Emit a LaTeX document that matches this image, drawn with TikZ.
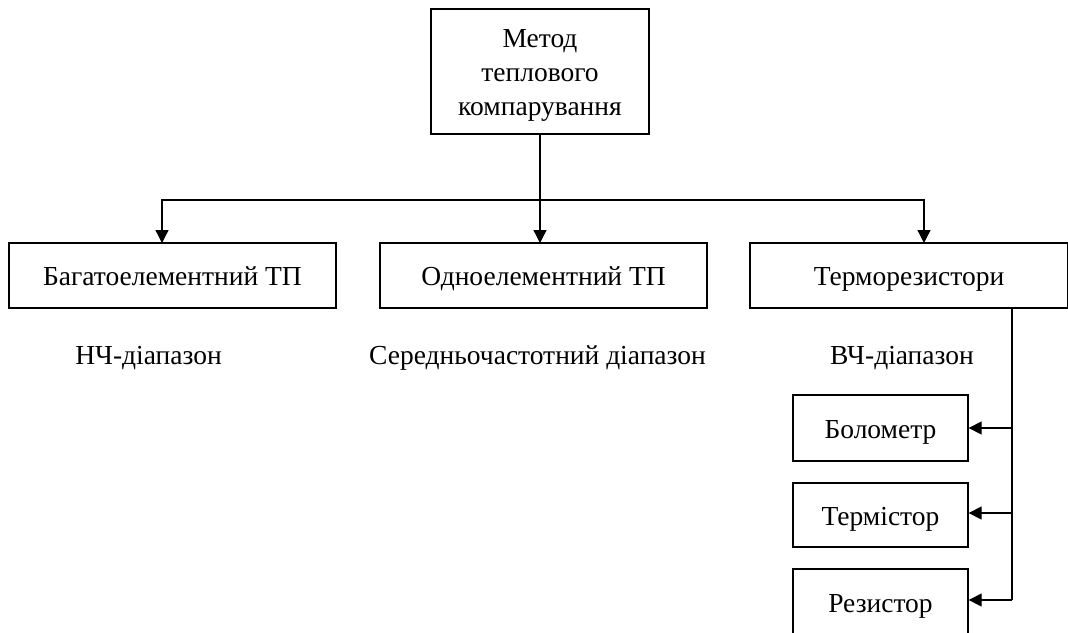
\documentclass[tikz,border=0pt]{standalone}
\usepackage{fontspec}
\setmainfont{Liberation Serif}
\usetikzlibrary{arrows.meta}
\begin{document}
\begin{tikzpicture}[x=1pt,y=-1pt,
  box/.style={draw,line width=1.3pt,inner sep=0pt,align=center,font=\fontsize{27.5}{34}\selectfont},
  one/.style={text height=26pt,text depth=6pt},
  lbl/.style={inner sep=0pt,text height=19pt,text depth=6pt,font=\fontsize{27.5}{34}\selectfont},
  conn/.style={line width=1.3pt,-{Triangle[length=13pt,width=13pt]}}]
\useasboundingbox (0,0) rectangle (1068,632);
\node[box,minimum width=218pt,minimum height=125pt] (top) at (540,71.5) {};
\node[inner sep=0pt,align=center,font=\fontsize{27.5}{34}\selectfont] (toptext) at (540,75.5) {Метод\\теплового\\компарування};
\node[box,one,minimum width=327pt,minimum height=65pt] (b1) at (172.5,275.5) {Багатоелементний ТП};
\node[box,one,minimum width=327pt,minimum height=65pt] (b2) at (543.5,275.5) {Одноелементний ТП};
\node[box,one,minimum width=318pt,minimum height=65pt] (b3) at (909,275.5) {Терморезистори};
\node[lbl] (l1) at (148.5,358) {НЧ-діапазон};
\node[lbl] (l2) at (537.5,358) {Середньочастотний діапазон};
\node[lbl] (l3) at (902,358) {ВЧ-діапазон};
\node[box,one,minimum width=175pt,minimum height=66pt] (s1) at (880.5,428) {Болометр};
\node[box,one,minimum width=175pt,minimum height=64pt] (s2) at (880.5,515) {Термістор};
\node[box,one,minimum width=175pt,minimum height=66pt] (s3) at (880.5,602) {Резистор};
\coordinate (h) at (540,200);
\draw[line width=1.3pt] (top.south) -- (h);
\draw[conn] (h) -- (162,200) -- (162,243);
\draw[conn] (h) -- (540,243);
\draw[conn] (h) -- (924,200) -- (924,243);
\coordinate (v0) at (1012,308);
\coordinate (v1) at (1012,428);
\coordinate (v2) at (1012,513);
\coordinate (v3) at (1012,600);
\draw[line width=1.3pt] (v0) -- (v3);
\draw[conn] (v1) -- (s1.east |- v1);
\draw[conn] (v2) -- (s2.east |- v2);
\draw[conn] (v3) -- (s3.east |- v3);
\end{tikzpicture}
\end{document}
